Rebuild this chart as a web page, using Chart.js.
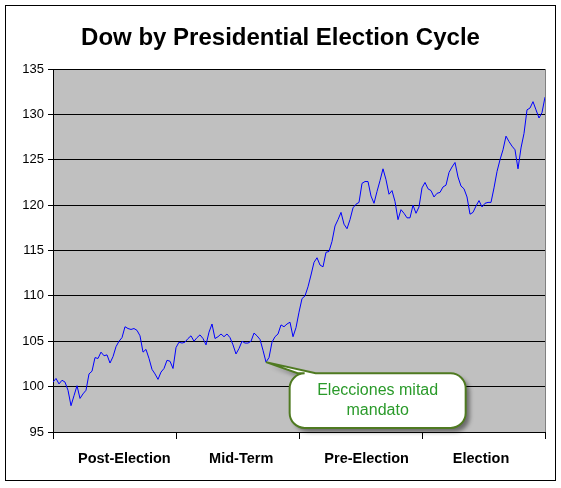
<!DOCTYPE html>
<html>
<head>
<meta charset="utf-8">
<script src="https://cdn.jsdelivr.net/npm/chart.js@4.4.1/dist/chart.umd.min.js"></script>
<style>
  body { margin: 0; background: #fff; }
  canvas { display: block; }
</style>
</head>
<body>
<canvas id="dowChart" width="561" height="488"></canvas>
<script>
// chart data
const chartTitle = "Dow by Presidential Election Cycle";
const cycleLabels = ["Post-Election", "Mid-Term", "Pre-Election", "Election"];
const cycleBounds = [0, 1, 2, 3, 4]; // years into the term
const yMin = 95, yMax = 135, yStep = 5;

// index level through the 4 year cycle
const dowValues = [
    100.5, 100.9, 100.3, 100.7, 100.5, 99.6, 97.9, 99.0, 100.1, 98.7,
    99.2, 99.6, 101.4, 101.7, 103.2, 103.1, 103.8, 103.4, 103.5, 102.6,
    103.3, 104.4, 105.0, 105.4, 106.6, 106.4, 106.3, 106.4, 106.2, 105.6,
    103.8, 104.1, 103.1, 101.9, 101.4, 100.8, 101.6, 102.0, 102.9, 102.8,
    102.0, 104.3, 104.9, 104.8, 104.9, 105.3, 105.6, 105.0, 105.4, 105.7,
    105.3, 104.6, 106.0, 106.9, 105.3, 105.5, 105.8, 105.5, 105.8, 105.4,
    104.6, 103.6, 104.2, 105.0, 104.8, 104.8, 105.0, 105.9, 105.6, 105.2,
    104.0, 102.7, 103.2, 104.9, 105.5, 105.8, 106.8, 106.6, 106.9, 107.1,
    105.5, 106.5, 108.2, 109.7, 110.0, 111.0, 112.3, 113.7, 114.2, 113.4,
    113.2, 114.8, 114.9, 116.0, 117.7, 118.4, 119.2, 117.9, 117.4, 118.4,
    119.7, 120.1, 120.3, 122.4, 122.6, 122.6, 121.0, 120.2, 121.5, 122.7,
    124.0, 122.8, 121.2, 121.6, 120.4, 118.4, 119.5, 119.1, 118.6, 118.6,
    120.0, 119.1, 119.8, 121.9, 122.5, 121.8, 121.6, 120.9, 121.3, 121.4,
    122.0, 122.2, 123.6, 124.2, 124.7, 123.1, 122.1, 121.8, 120.9, 119.0,
    119.2, 119.9, 120.5, 119.8, 120.2, 120.3, 120.3, 121.9, 123.7, 125.0,
    126.1, 127.6, 127.0, 126.5, 126.1, 124.0, 126.3, 127.9, 130.5, 130.7,
    131.4, 130.5, 129.6, 130.2, 131.9
];

// callout pointing at the mid-term low
const calloutText = ["Elecciones mitad", "mandato"];
const midTermLowIndex = 71;
const callout = { x0: 1.924, x1: 3.355, yTop: 101.47, yBottom: 95.45 };
// where the category names sit along the axis (Excel puts them a bit off centre)
const labelSpots = [0.58, 1.53, 2.55, 3.48];

const fontFamily = "Arial, 'Liberation Sans', sans-serif";
const yearOf = i => i * 4 / (dowValues.length - 1);
const points = dowValues.map((v, i) => ({ x: yearOf(i), y: v }));

// grey plot area, right edge, title and outer frame
const framePlugin = {
    id: "frame",
    beforeDraw(chart) {
        const { ctx, chartArea: a } = chart;
        ctx.save();
        ctx.fillStyle = "#fff";
        ctx.fillRect(0, 0, chart.width, chart.height);
        ctx.fillStyle = "#C0C0C0";
        ctx.fillRect(a.left, a.top, a.right - a.left, a.bottom - a.top);
        ctx.restore();
    },
    beforeDatasetsDraw(chart) {
        const { ctx, chartArea: a } = chart;
        ctx.save();
        ctx.strokeStyle = "#808080";
        ctx.lineWidth = 1;
        ctx.beginPath();
        ctx.moveTo(Math.round(a.right) + 0.5, a.top);
        ctx.lineTo(Math.round(a.right) + 0.5, a.bottom);
        ctx.stroke();
        ctx.restore();
    },
    afterDraw(chart) {
        const ctx = chart.ctx;
        ctx.save();
        ctx.fillStyle = "#000";
        ctx.font = "bold 24px " + fontFamily;
        ctx.textAlign = "center";
        ctx.textBaseline = "middle";
        ctx.fillText(chartTitle, chart.width / 2, 38);
        ctx.strokeStyle = "#000";
        ctx.lineWidth = 1;
        ctx.strokeRect(5.5, 5.5, chart.width - 11, chart.height - 13);
        ctx.restore();
    }
};

const calloutPlugin = {
    id: "callout",
    afterDatasetsDraw(chart) {
        const { ctx, scales: { x, y } } = chart;
        const tipX = x.getPixelForValue(yearOf(midTermLowIndex));
        const tipY = y.getPixelForValue(dowValues[midTermLowIndex]);
        const L = x.getPixelForValue(callout.x0), R = x.getPixelForValue(callout.x1);
        const T = y.getPixelForValue(callout.yTop), B = y.getPixelForValue(callout.yBottom);
        const r = 15;

        ctx.save();
        ctx.beginPath();
        ctx.moveTo(L + r, T);
        ctx.lineTo(L + 8, T);
        ctx.lineTo(tipX, tipY);
        ctx.lineTo(L + 26, T);
        ctx.lineTo(R - r, T);
        ctx.arcTo(R, T, R, T + r, r);
        ctx.lineTo(R, B - r);
        ctx.arcTo(R, B, R - r, B, r);
        ctx.lineTo(L + r, B);
        ctx.arcTo(L, B, L, B - r, r);
        ctx.lineTo(L, T + r);
        ctx.arcTo(L, T, L + 8, T, r);
        ctx.closePath();

        ctx.shadowColor = "rgba(0,0,0,0.45)";
        ctx.shadowBlur = 4;
        ctx.shadowOffsetX = 4;
        ctx.shadowOffsetY = 4;
        ctx.fillStyle = "#fff";
        ctx.fill();
        ctx.shadowColor = "transparent";
        ctx.strokeStyle = "#4F7A21";
        ctx.lineWidth = 2;
        ctx.stroke();

        ctx.fillStyle = "#2A9A2A";
        ctx.font = "16px " + fontFamily;
        ctx.textAlign = "center";
        ctx.textBaseline = "middle";
        const cx = (L + R) / 2, cy = (T + B) / 2;
        ctx.fillText(calloutText[0], cx, cy - 10);
        ctx.fillText(calloutText[1], cx, cy + 10);
        ctx.restore();
    }
};

const ctx = document.getElementById("dowChart").getContext("2d");

new Chart(ctx, {
    type: "line",
    data: {
        datasets: [{
            data: points,
            borderColor: "#0000FF",
            borderWidth: 1,
            pointRadius: 0,
            tension: 0,
            fill: false
        }]
    },
    options: {
        responsive: false,
        animation: false,
        events: [],
        layout: { padding: { left: 0, right: 16, top: 69, bottom: 0 } },
        plugins: {
            legend: { display: false },
            tooltip: { enabled: false },
            title: { display: false }
        },
        scales: {
            x: {
                type: "linear",
                min: 0,
                max: 4,
                position: "bottom",
                afterBuildTicks: s => { s.ticks = cycleBounds.map(v => ({ value: v })); },
                afterFit: s => { s.height = 7; },
                ticks: { display: false },
                grid: { drawOnChartArea: false, drawTicks: true, tickLength: 7, color: "#000" },
                border: { color: "#000" }
            },
            x2: {
                type: "linear",
                min: 0,
                max: 4,
                position: "bottom",
                afterBuildTicks: s => { s.ticks = labelSpots.map(v => ({ value: v })); },
                afterFit: s => { s.height = 49; },
                ticks: {
                    autoSkip: false,
                    maxRotation: 0,
                    padding: 3,
                    color: "#000",
                    font: { family: fontFamily, size: 14.5, weight: "bold" },
                    callback: (v, i) => cycleLabels[i]
                },
                grid: { display: false },
                border: { display: false }
            },
            y: {
                min: yMin,
                max: yMax,
                afterFit: s => { s.width = 53; },
                ticks: {
                    stepSize: yStep,
                    color: "#000",
                    padding: 4,
                    font: { family: fontFamily, size: 13 }
                },
                grid: { color: "#000", tickLength: 5 },
                border: { color: "#000" }
            }
        }
    },
    plugins: [framePlugin, calloutPlugin]
});
</script>
</body>
</html>
